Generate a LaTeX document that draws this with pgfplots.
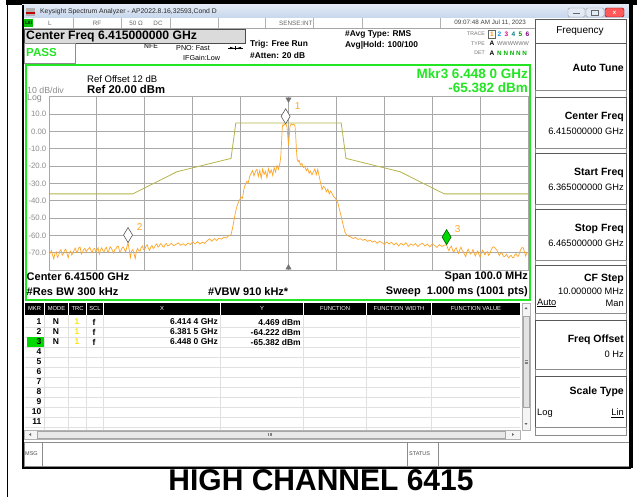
\documentclass[border=0pt]{standalone}
\usepackage{pgfplots}
\pgfplotsset{compat=1.18}
\usepackage{fontspec}
\setmainfont{Liberation Sans}
\newcommand\f[1]{\fontsize{#1}{#1}\selectfont}
\definecolor{trace}{HTML}{FFA526}
\definecolor{limit}{HTML}{B5B548}
\definecolor{grn}{HTML}{22E622}
\definecolor{gridc}{HTML}{A8A8A8}
\definecolor{lbl}{HTML}{8C8C8C}
\definecolor{tbar1}{HTML}{E2EAF6}
\definecolor{tbar2}{HTML}{C6D6EC}
\newcommand\btn[2]{\draw[black!65, fill=white, line width=0.8pt] (535,#1) rectangle (626,#2);}
\newcommand\strip[2]{\draw[black!45, fill=white, line width=0.6pt] (535,#1) rectangle (626,#2);}
\begin{document}
\begin{tikzpicture}
\begin{scope}[x=1pt,y=-1pt,every node/.style={inner sep=0pt}]
\path[use as bounding box] (0,0) rectangle (637,497);
\fill[white] (0,0) rectangle (637,497);
% outer frame
\fill[black] (6,0) rectangle (637,5);
\fill[black] (6.5,0) rectangle (8.2,497);
% window
\fill[white] (22,5) rectangle (631,468);
\shade[top color=tbar1, bottom color=tbar2] (22,5) rectangle (631,18);
\fill[gray!60] (26,8) rectangle (35,16);
\fill[red!75!black] (26,12) rectangle (35,13.6);
\node[anchor=west,font=\f{6.8},text=black!85] at (40,11.8) {Keysight Spectrum Analyzer - AP2022.8.16,32593,Cond D};
\draw[rounded corners=1.5pt, fill=tbar1, draw=black!40] (568,8) rectangle (585,17);
\draw[rounded corners=1.5pt, fill=tbar1, draw=black!40] (586,8) rectangle (604,17);
\draw[rounded corners=1.5pt, fill=red!65, draw=red!50!black] (605,8) rectangle (624,17);
\draw[black!60, line width=1pt] (573,14)--(580,14);
\draw[black!60, line width=0.7pt] (591,10.5) rectangle (598,15);
\node[font=\f{6}\bfseries,text=white] at (614.5,12.5) {x};
% status row
\draw[black!35] (22,28)--(535,28);
\foreach \x in {73,121,170,218,265,313,362,440} \draw[black!30] (\x,18)--(\x,28);
\fill[green!75!black] (24,19) rectangle (33,27);
\node[font=\f{4.5}\bfseries] at (28.5,23) {LXI};
\node[font=\f{6.3},text=black!60] at (50,23) {L};
\node[font=\f{6.3},text=black!60] at (97,23) {RF};
\node[font=\f{6.3},text=black!60] at (136,23) {50 Ω};
\node[font=\f{6.3},text=black!60] at (158,23) {DC};
\node[anchor=west,font=\f{6.3},text=black!60] at (279,23) {SENSE:INT};
\node[anchor=east,font=\f{6.3},text=black!75] at (526,23) {09:07:48 AM Jul 11, 2023};
% header
\draw[fill=gray!28, draw=black!70, line width=0.8pt] (24,29) rectangle (245,43);
\node[anchor=west,font=\f{12.2}\bfseries] at (26,36.5) {Center Freq 6.415000000 GHz};
\draw[draw=black!45, fill=white] (24,43) rectangle (75,63);
\node[anchor=west,font=\f{11.6}\bfseries,text=grn] at (26,53) {PASS};
\node[anchor=west,font=\f{6.8}\bfseries,text=black!70] at (144,46.5) {NFE};
\node[anchor=west,font=\f{7.2}] at (176,48) {PNO: Fast};
\draw[line width=0.6pt] (228,48)--(243,48);
\draw[line width=0.6pt] (235.5,46)--(235.5,50);
\fill (230,46.8)--(233.5,48)--(230,49.2)--cycle;
\fill (241,46.8)--(237.5,48)--(241,49.2)--cycle;
\node[anchor=west,font=\f{7.2}] at (183,57.5) {IFGain:Low};
\node[anchor=west,font=\f{8.4}\bfseries] at (250,44.5) {Trig: Free Run};
\node[anchor=west,font=\f{8.4}\bfseries] at (250,55.5) {\#Atten: 20 dB};
\node[anchor=west,font=\f{8.4}\bfseries] at (345,34) {\#Avg Type: RMS};
\node[anchor=west,font=\f{8.4}\bfseries] at (345,45) {Avg|Hold: 100/100};
\node[anchor=east,font=\f{5.2},text=black!55] at (485,34) {TRACE};
\node[anchor=east,font=\f{5.2},text=black!55] at (485,43.5) {TYPE};
\node[anchor=east,font=\f{5.2},text=black!55] at (485,53) {DET};
\draw[black!60] (488.5,30) rectangle (495,38);
\node[font=\f{6.5}\bfseries,text=orange!90!yellow] at (492,34) {1};
\node[font=\f{6.5}\bfseries,text=cyan!80!blue] at (499.5,34) {2};
\node[font=\f{6.5}\bfseries,text=magenta] at (506.5,34) {3};
\node[font=\f{6.5}\bfseries,text=teal] at (513.5,34) {4};
\node[font=\f{6.5}\bfseries,text=green!60!black] at (520.5,34) {5};
\node[font=\f{6.5}\bfseries,text=violet] at (527.5,34) {6};
\node[font=\f{6.5}\bfseries] at (492,43.5) {A};
\node[anchor=west,font=\f{5.6},text=black!55] at (497,43.5) {WWWWWW};
\node[font=\f{6.5}\bfseries] at (492,53) {A};
\node[anchor=west,font=\f{6.3}\bfseries,text=green!70!black] at (497,53) {N N N N N};
% green frame
\draw[grn, line width=2pt] (25.5,65) rectangle (530,300);
\node[anchor=west,font=\f{9.5}] at (87,79) {Ref Offset 12 dB};
\node[anchor=west,font=\f{11.3}\bfseries] at (87,89.5) {Ref 20.00 dBm};
\node[anchor=west,font=\f{8.8},text=lbl] at (27,90) {10 dB/div};
\node[anchor=west,font=\f{8.8},text=lbl] at (27,98.8) {Log};
\node[anchor=east,font=\f{13.5}\bfseries,text=grn] at (528,73.5) {Mkr3 6.448 0 GHz};
\node[anchor=east,font=\f{13.5}\bfseries,text=grn] at (528,87.5) {-65.382 dBm};
\node[anchor=west,font=\f{10.6},text=grn] at (55,107) {Trace 1 Pass};
% below plot
\node[anchor=west,font=\f{11}\bfseries] at (26.5,277) {Center 6.41500 GHz};
\node[anchor=west,font=\f{11}\bfseries] at (26.5,291.5) {\#Res BW 300 kHz};
\node[anchor=west,font=\f{11}\bfseries] at (208,291.5) {\#VBW 910 kHz*};
\node[anchor=east,font=\f{11}\bfseries] at (528,277) {Span 100.0 MHz};
\node[anchor=east,font=\f{11}\bfseries] at (528,291.5) {Sweep\ \ 1.000 ms (1001 pts)};
% table
\foreach \a/\b/\t in {25/44/MKR,45/68/MODE,69/86/TRC,87/103/SCL,104/220/X,221/303/Y,304/366/FUNCTION,367/431/FUNCTION WIDTH,432/520/FUNCTION VALUE}{
  \fill[black] (\a,303) rectangle (\b,315);
  \node[font=\f{5.8},text=white] at ({(\a+\b)/2},309) {\t};
}
\foreach \y in {327,337,...,427} \draw[black!12] (25,\y)--(520,\y);
\foreach \x in {44.5,68.5,86.5,103.5,220.5,303.5,366.5,431.5} \draw[black!12] (\x,315)--(\x,430);
\fill[green!85!black] (27,337) rectangle (43.5,346.5);
\foreach \i [count=\k from 0] in {1,...,11} \node[anchor=east,font=\f{8.5}\bfseries] at (41.5,{322+10*\k}) {\i};
\foreach \k in {0,1,2}{
  \node[font=\f{8.5}\bfseries] at (56,{322+10*\k}) {N};
  \node[font=\f{8.5}\bfseries,text=yellow!90!orange] at (77,{322+10*\k}) {1};
  \node[font=\f{8.5}\bfseries] at (94,{322+10*\k}) {f};
}
\node[anchor=east,font=\f{8.5}\bfseries] at (218,322) {6.414 4 GHz};
\node[anchor=east,font=\f{8.5}\bfseries] at (218,332) {6.381 5 GHz};
\node[anchor=east,font=\f{8.5}\bfseries] at (218,342) {6.448 0 GHz};
\node[anchor=east,font=\f{8.5}\bfseries] at (301,322) {4.469 dBm};
\node[anchor=east,font=\f{8.5}\bfseries] at (301,332) {-64.222 dBm};
\node[anchor=east,font=\f{8.5}\bfseries] at (301,342) {-65.382 dBm};
% scrollbars
\draw[black!30, fill=gray!8] (522,303) rectangle (530,430);
\draw[black!35, fill=gray!22] (523,316) rectangle (529,407);
\foreach \y in {360.5,362,363.5} \draw[black!50] (524.5,\y)--(527.5,\y);
\fill[black!60] (524.5,309)--(527.5,309)--(526,307)--cycle;
\fill[black!60] (524.5,423)--(527.5,423)--(526,425)--cycle;
\draw[black!30, fill=gray!8] (24,430) rectangle (520,439);
\draw[black!35, fill=gray!18] (37,431) rectangle (505,438);
\foreach \x in {268.5,270,271.5} \draw[black!50] (\x,433)--(\x,436);
\fill[black!60] (31,433)--(31,436)--(29,434.5)--cycle;
\fill[black!60] (512,433)--(512,436)--(514,434.5)--cycle;
% msg row
\draw[black!45] (24,442) rectangle (629,466);
\draw[black!45] (42,442)--(42,466);
\draw[black!45] (407,442)--(407,466);
\draw[black!45] (438,442)--(438,466);
\node[anchor=west,font=\f{5.5},text=black!70] at (25,454) {MSG};
\node[anchor=west,font=\f{5.5},text=black!70] at (409,454) {STATUS};
% right panel
\btn{19}{43}
\node[font=\f{10}] at (580,31) {Frequency};
\btn{43}{90}
\node[anchor=east,font=\f{10.5}\bfseries] at (624,67.5) {Auto Tune};
\strip{90}{97}
\btn{97}{148}
\node[anchor=east,font=\f{10.5}\bfseries] at (624,117) {Center Freq};
\node[anchor=east,font=\f{9.3}] at (624,131.5) {6.415000000 GHz};
\strip{148}{153}
\btn{153}{204}
\node[anchor=east,font=\f{10.5}\bfseries] at (624,173) {Start Freq};
\node[anchor=east,font=\f{9.3}] at (624,187.5) {6.365000000 GHz};
\strip{204}{209}
\btn{209}{260}
\node[anchor=east,font=\f{10.5}\bfseries] at (624,228.5) {Stop Freq};
\node[anchor=east,font=\f{9.3}] at (624,243) {6.465000000 GHz};
\strip{260}{265}
\btn{265}{313}
\node[anchor=east,font=\f{10.5}\bfseries] at (624,279) {CF Step};
\node[anchor=east,font=\f{9.3}] at (624,291.5) {10.000000 MHz};
\node[anchor=west,font=\f{9.3}] at (537,303) {\underline{Auto}};
\node[anchor=east,font=\f{9.3}] at (624,303) {Man};
\strip{313}{320}
\btn{320}{369}
\node[anchor=east,font=\f{10.5}\bfseries] at (624,339.5) {Freq Offset};
\node[anchor=east,font=\f{9.3}] at (624,354.5) {0 Hz};
\strip{369}{376}
\btn{376}{427}
\node[anchor=east,font=\f{10.5}\bfseries] at (624,391.5) {Scale Type};
\node[anchor=west,font=\f{9.3}] at (537,413.5) {Log};
\node[anchor=east,font=\f{9.3}] at (624,413.5) {\underline{Lin}};
\strip{427}{435}
% window border
\draw[black, line width=2.2pt] (23,5) -- (23,468) -- (630,468) -- (630,5);
\fill[black] (628.5,0) rectangle (632.5,468);
% caption
\node[font=\f{30}\bfseries] at (321,480.5) {HIGH CHANNEL 6415};
\end{scope}
\begin{axis}[
  at={(49pt,-270pt)}, anchor=south west,
  scale only axis, width=479pt, height=173pt,
  xmin=-50, xmax=50, ymin=-80, ymax=20,
  xtick={-40,-30,...,40}, ytick={-70,-60,...,10},
  xticklabels={,,,,,,,,},
  yticklabels={-70.0,-60.0,-50.0,-40.0,-30.0,-20.0,-10.0,0.00,10.0},
  yticklabel style={font=\f{7.8}, text=lbl, inner sep=0pt, xshift=-2.5pt},
  major tick length=0pt,
  grid=major, grid style={gridc, line width=0.9pt},
  axis line style={gridc, line width=1pt},
  axis background/.style={fill=white},
]
\addplot[limit, line width=0.8pt] coordinates {
(-50,-36) (-32.5,-36) (-23.3,-23.2) (-12,-15.5) (-11,5) (11,5) (12,-15.5) (23.3,-23.2) (32.5,-36) (50,-36)};
\addplot[trace, line width=0.7pt] table {
-50.00 -72.5
-49.75 -70.1
-49.50 -68.8
-49.25 -71.4
-49.00 -73.6
-48.75 -70.3
-48.50 -69.5
-48.25 -72.6
-48.00 -71.8
-47.75 -69.0
-47.50 -68.2
-47.25 -71.5
-47.00 -70.6
-46.75 -68.7
-46.50 -67.9
-46.25 -70.4
-46.00 -72.9
-45.75 -70.0
-45.50 -69.1
-45.25 -71.3
-45.00 -70.2
-44.75 -68.5
-44.50 -67.4
-44.25 -69.9
-44.00 -68.9
-43.75 -67.0
-43.50 -66.8
-43.25 -70.8
-43.00 -69.7
-42.75 -68.1
-42.50 -67.5
-42.25 -69.4
-42.00 -68.3
-41.75 -67.8
-41.50 -66.9
-41.25 -68.6
-41.00 -69.8
-40.75 -68.0
-40.50 -67.6
-40.25 -69.3
-40.00 -68.4
-39.75 -67.1
-39.50 -70.9
-39.25 -68.5
-39.00 -67.2
-38.75 -68.9
-38.50 -69.4
-38.25 -67.6
-38.00 -66.9
-37.75 -69.8
-37.50 -68.8
-37.25 -66.5
-37.00 -67.3
-36.75 -68.9
-36.50 -70.2
-36.25 -68.1
-36.00 -67.8
-35.75 -66.2
-35.50 -66.4
-35.25 -69.5
-35.00 -68.9
-34.75 -67.3
-34.50 -66.7
-34.25 -68.0
-34.00 -69.6
-33.75 -66.8
-33.50 -64.222
-33.25 -68.4
-33.00 -72.8
-32.75 -69.0
-32.50 -68.1
-32.25 -70.6
-32.00 -73.4
-31.75 -69.1
-31.50 -67.5
-31.25 -68.8
-31.00 -69.2
-30.75 -67.0
-30.50 -66.1
-30.25 -68.3
-30.00 -67.9
-29.75 -66.2
-29.50 -65.4
-29.25 -67.5
-29.00 -68.6
-28.75 -66.7
-28.50 -65.8
-28.25 -67.6
-28.00 -66.9
-27.75 -65.5
-27.50 -64.9
-27.25 -66.8
-27.00 -66.3
-26.75 -64.8
-26.50 -65.1
-26.25 -66.5
-26.00 -66.8
-25.75 -65.2
-25.50 -64.7
-25.25 -66.1
-25.00 -65.9
-24.5 -64.6
-24.0 -66.0
-23.5 -65.2
-23.0 -64.3
-22.5 -65.7
-22.0 -64.8
-21.5 -65.9
-21.0 -64.4
-20.5 -65.3
-20.0 -63.8
-19.5 -64.9
-19.0 -63.6
-18.5 -65.0
-18.0 -63.9
-17.5 -64.6
-17.0 -63.1
-16.5 -62.0
-16.0 -63.4
-15.5 -61.8
-15.0 -62.9
-14.5 -61.6
-14.0 -62.2
-13.5 -61.0
-13.0 -61.5
-12.5 -60.3
-12.0 -59.6
-11.7 -56.0
-11.4 -51.5
-11.1 -47.0
-10.8 -43.5
-10.5 -41.0
-10.2 -39.5
-9.9 -37.8
-9.6 -38.5
-9.3 -33.0
-9.0 -30.5
-8.7 -28.8
-8.4 -29.5
-8.1 -25.8
-7.8 -24.2
-7.5 -22.5
-7.2 -25.6
-6.9 -23.0
-6.6 -21.8
-6.3 -25.9
-6.0 -22.4
-5.7 -27.0
-5.4 -21.6
-5.1 -24.8
-4.8 -22.9
-4.5 -26.7
-4.2 -21.4
-3.9 -24.1
-3.6 -22.2
-3.3 -25.3
-3.0 -20.9
-2.7 -23.4
-2.4 -19.6
-2.1 -21.8
-1.8 -18.5
-1.6 -14.0
-1.45 -6.0
-1.3 2.5
-1.15 4.1
-1.0 3.6
-0.8 4.3
-0.6 4.469
-0.45 3.9
-0.3 2.2
-0.15 -2.5
0.0 -8.0
0.15 -3.0
0.3 2.8
0.45 4.0
0.6 4.4
0.8 3.9
1.0 4.3
1.2 4.0
1.35 3.2
1.5 -2.0
1.65 -10.5
1.8 -15.8
2.0 -17.4
2.2 -16.6
2.5 -19.2
2.8 -18.4
3.1 -20.8
3.4 -19.9
3.7 -22.6
4.0 -21.3
4.3 -24.1
4.6 -22.8
4.9 -25.0
5.2 -23.2
5.5 -21.6
5.8 -24.9
6.1 -21.9
6.4 -25.8
6.7 -29.7
7.0 -33.5
7.3 -31.6
7.6 -32.3
7.9 -34.8
8.2 -33.2
8.5 -36.0
8.8 -34.4
9.1 -35.8
9.4 -37.4
9.7 -38.3
10.0 -39.6
10.3 -41.2
10.6 -44.5
10.9 -48.0
11.2 -51.5
11.5 -55.0
11.8 -58.2
12.1 -59.6
12.5 -60.4
13.0 -60.9
13.5 -61.8
14.0 -61.2
14.5 -62.3
15.0 -61.9
15.5 -62.8
16.0 -62.2
16.5 -63.5
17.0 -62.7
17.5 -63.9
18.0 -63.2
18.5 -64.6
19.0 -63.4
19.5 -64.1
20.0 -65.2
20.5 -63.8
21.0 -64.9
21.5 -64.0
22.0 -65.5
22.5 -64.3
23.0 -66.1
23.5 -64.5
24.0 -65.6
24.5 -64.2
25.0 -66.3
25.5 -64.9
26.0 -65.8
26.5 -64.7
27.0 -66.5
27.5 -65.1
28.0 -64.6
28.5 -66.2
29.0 -65.0
29.5 -66.7
30.0 -64.9
30.5 -65.8
31.0 -66.9
31.5 -65.3
32.0 -66.4
32.5 -65.7
33.00 -65.382
33.25 -67.5
33.50 -68.9
33.75 -67.0
34.00 -66.2
34.25 -68.4
34.50 -69.7
34.75 -68.1
35.00 -67.1
35.25 -69.0
35.50 -70.4
35.75 -68.3
36.00 -66.8
36.25 -68.7
36.50 -69.5
36.75 -71.0
37.00 -72.3
37.25 -69.4
37.50 -67.9
37.75 -69.6
38.00 -70.8
38.25 -69.9
38.50 -68.2
38.75 -70.3
39.00 -71.9
39.25 -70.1
39.50 -69.0
39.75 -71.1
40.00 -72.5
40.25 -70.2
40.50 -68.6
40.75 -69.8
41.00 -71.2
41.25 -70.0
41.50 -69.3
41.75 -71.5
42.00 -70.7
42.25 -68.8
42.50 -67.4
42.75 -66.6
43.00 -66.9
43.25 -67.8
43.50 -68.5
43.75 -70.2
44.00 -71.6
44.25 -70.5
44.50 -69.8
44.75 -71.4
45.00 -72.4
45.25 -71.8
45.50 -70.9
45.75 -72.2
46.00 -73.0
46.25 -72.0
46.50 -71.5
46.75 -72.9
47.00 -72.8
47.25 -71.2
47.50 -70.6
47.75 -71.8
48.00 -72.1
48.25 -69.9
48.50 -68.0
48.75 -67.0
49.00 -67.2
49.25 -69.4
49.50 -71.9
49.75 -70.2
50.00 -69.8
};
\addplot[only marks, mark=diamond*, mark size=7.5pt, mark options={xscale=0.8, fill=white, draw=black!65, line width=0.6pt}] coordinates {(-0.6,8.85) (-33.5,-59.8)};
\addplot[only marks, mark=diamond*, mark size=7.5pt, mark options={xscale=0.8, fill=green!85!black, draw=green!35!black, line width=0.6pt}] coordinates {(33,-61.0)};
\addplot[only marks, mark=triangle*, mark size=3pt, mark options={rotate=180, fill=black!55, draw=black!55}] coordinates {(0,18.6)};
\addplot[only marks, mark=triangle*, mark size=3pt, mark options={fill=black!55, draw=black!55}] coordinates {(0,-78.6)};
\node[anchor=west, text=trace, font=\f{10}] at (axis cs:0.6,14.5) {1};
\node[anchor=west, text=trace, font=\f{10}] at (axis cs:-32.4,-55.2) {2};
\node[anchor=west, text=trace, font=\f{10}] at (axis cs:34.0,-56.6) {3};
\end{axis}
\end{tikzpicture}
\end{document}
